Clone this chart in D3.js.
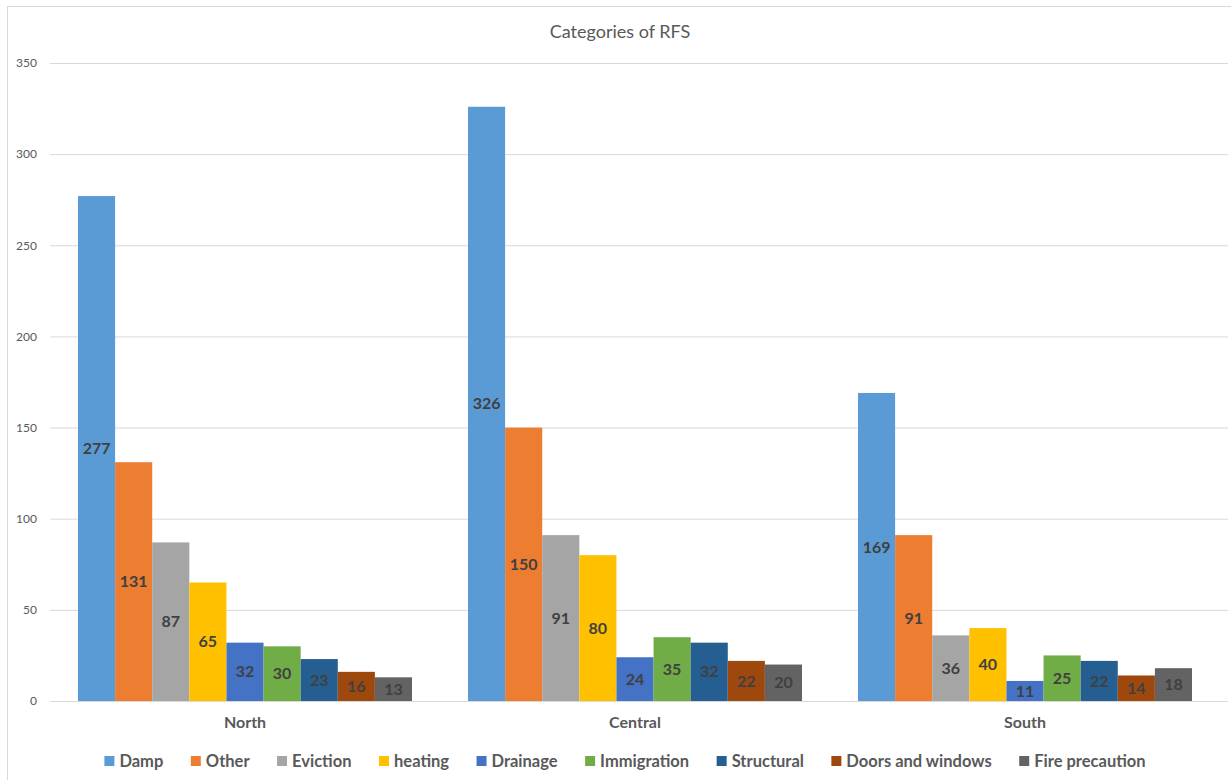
<!DOCTYPE html>
<html>
<head>
<meta charset="utf-8">
<script src="https://cdn.jsdelivr.net/npm/d3@7"></script>
<style>
  body { margin: 0; background: #fff; }
  text { font-family: Lato, "Open Sans", sans-serif; }
</style>
</head>
<body>
<svg class="chart"></svg>
<script>
const regions = ["North", "Central", "South"];
const series = ["Damp", "Other", "Eviction", "heating", "Drainage", "Immigration", "Structural", "Doors and windows", "Fire precaution"];
const north = [277, 131, 87, 65, 32, 30, 23, 16, 13];
const central = [326, 150, 91, 80, 24, 35, 32, 22, 20];
const south = [169, 91, 36, 40, 11, 25, 22, 14, 18];
const yTicks = [0, 50, 100, 150, 200, 250, 300, 350];
const colors = ["#5B9BD5", "#ED7D31", "#A5A5A5", "#FFC000", "#4472C4", "#70AD47", "#255E91", "#9E480E", "#636363"];

const width = 1231, height = 780;
const margin = {top: 63, right: 11, bottom: 79, left: 50};
const values = [north, central, south];

const svg = d3.select(".chart").attr("width", width).attr("height", height);

// chart frame
svg.append("rect")
    .attr("x", 7.5).attr("y", 6.5)
    .attr("width", width).attr("height", height)
    .attr("fill", "none").attr("stroke", "#d9d9d9");

svg.append("text")
    .attr("x", 620).attr("y", 38)
    .attr("text-anchor", "middle")
    .attr("fill", "#595959")
    .style("font-size", "18px")
    .text("Categories of RFS");

const x0 = d3.scaleBand()
    .domain(regions)
    .range([margin.left, width - margin.right]);

const step = x0.bandwidth();
const x1 = d3.scaleBand()
    .domain(series)
    .range([28, step - 28]);

const y = d3.scaleLinear()
    .domain([0, 350])
    .range([height - margin.bottom, margin.top]);

// gridlines + y labels
const yAxis = svg.append("g")
    .attr("transform", `translate(${margin.left},0)`)
    .call(d3.axisLeft(y).tickValues(yTicks).tickSize(-(width - margin.left - 3)).tickPadding(13))
    .call(g => g.select(".domain").remove());
yAxis.selectAll(".tick line").attr("stroke", "#d9d9d9");
yAxis.selectAll(".tick text")
    .attr("fill", "#595959")
    .style("font-size", "12px")
    .style("font-family", "Lato, sans-serif");

const groups = svg.append("g")
    .selectAll("g")
    .data(regions)
    .join("g")
    .attr("transform", d => `translate(${x0(d)},0)`);

const cells = groups.selectAll("g")
    .data((r, i) => series.map((s, j) => ({s, j, v: values[i][j]})))
    .join("g");

cells.append("rect")
    .attr("x", d => x1(d.s))
    .attr("y", d => y(d.v))
    .attr("width", x1.bandwidth())
    .attr("height", d => y(0) - y(d.v))
    .attr("fill", d => colors[d.j]);

cells.append("text")
    .attr("x", d => x1(d.s) + x1.bandwidth() / 2)
    .attr("y", d => (y(d.v) + y(0)) / 2)
    .attr("dy", "0.35em")
    .attr("text-anchor", "middle")
    .attr("fill", "#404040")
    .style("font-size", "16px")
    .style("font-weight", "bold")
    .text(d => d.v);

// x axis labels
svg.append("g")
    .attr("transform", `translate(0,${height - margin.bottom})`)
    .call(d3.axisBottom(x0).tickSize(0).tickPadding(16))
    .call(g => g.select(".domain").remove())
    .selectAll("text")
    .attr("fill", "#595959")
    .style("font-size", "16px")
    .style("font-weight", "bold")
    .style("font-family", "Lato, sans-serif");

// legend
const legend = svg.append("g").attr("transform", "translate(0,761)");
const items = legend.selectAll("g").data(series).join("g");
items.append("rect")
    .attr("y", -5).attr("width", 10).attr("height", 10)
    .attr("fill", (d, i) => colors[i]);
items.append("text")
    .attr("x", 15).attr("dy", "0.35em")
    .attr("fill", "#595959")
    .style("font-size", "16.5px")
    .style("font-weight", "bold")
    .text(d => d);

const gap = 27.5;
let cx = 0;
const offsets = [];
items.each(function() {
    offsets.push(cx);
    cx += 15 + this.querySelector("text").getComputedTextLength() + gap;
});
const total = cx - gap;
const start = 625 - total / 2;
items.attr("transform", (d, i) => `translate(${start + offsets[i]},0)`);
</script>
</body>
</html>
